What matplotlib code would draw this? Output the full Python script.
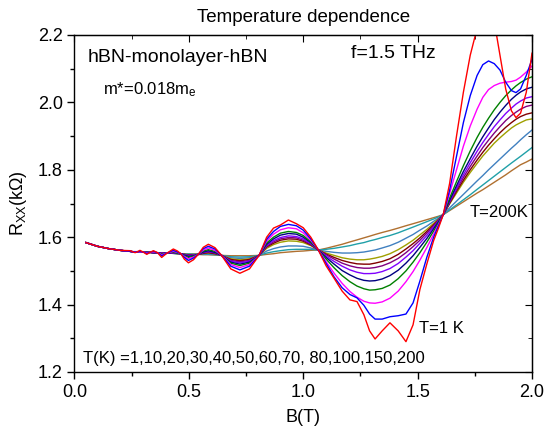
import numpy as np
import matplotlib
matplotlib.use('Agg')
import matplotlib.pyplot as plt

plt.rcParams['font.family'] = ['Liberation Sans', 'DejaVu Sans']
plt.rcParams['mathtext.fontset'] = 'custom'
plt.rcParams['mathtext.rm'] = 'Liberation Sans'
plt.rcParams['mathtext.it'] = 'Liberation Sans:italic'

# magnetic field grid (T)
b = [0.05, 0.10, 0.15, 0.20,
     0.243, 0.254, 0.265, 0.275, 0.286, 0.30,
     0.316, 0.33, 0.345, 0.363, 0.381, 0.405,
     0.432, 0.45, 0.465, 0.48, 0.498, 0.52,
     0.541, 0.563, 0.585, 0.614, 0.643, 0.683,
     0.723, 0.765, 0.807, 0.84, 0.87, 0.90,
     0.935, 0.97, 1.0, 1.033, 1.066,
     1.10, 1.135, 1.17, 1.204, 1.235, 1.265,
     1.29, 1.314, 1.345, 1.379, 1.415, 1.449,
     1.48, 1.51, 1.54, 1.57, 1.59, 1.612,
     1.64, 1.67, 1.70, 1.73, 1.76, 1.785,
     1.81, 1.835, 1.86, 1.885, 1.91, 1.93,
     1.95, 1.975, 2.0]

low = [1.584, 1.573, 1.566, 1.561]

r_1K = low + [1.560, 1.557, 1.554, 1.557, 1.561, 1.556,
              1.549, 1.555, 1.560, 1.554, 1.540, 1.553,
              1.565, 1.559, 1.551, 1.535, 1.524, 1.533,
              1.549, 1.570, 1.579, 1.569, 1.546, 1.506,
              1.493, 1.506, 1.546, 1.600, 1.627, 1.636,
              1.651, 1.640, 1.628, 1.600, 1.562,
              1.515, 1.478, 1.440, 1.414, 1.409, 1.370,
              1.322, 1.298, 1.322, 1.346, 1.322, 1.290,
              1.340, 1.445, 1.520, 1.590, 1.625, 1.667,
              1.760, 1.900, 2.030, 2.140, 2.220, 2.270,
              2.290, 2.240, 2.140, 2.040, 1.975, 1.955,
              1.968, 2.030, 2.146]
r_10K = low + [1.558, 1.557, 1.556, 1.557, 1.558, 1.556,
               1.552, 1.555, 1.558, 1.554, 1.545, 1.553,
               1.561, 1.556, 1.551, 1.540, 1.531, 1.538,
               1.549, 1.566, 1.573, 1.565, 1.546, 1.514,
               1.503, 1.514, 1.546, 1.594, 1.617, 1.632,
               1.638, 1.634, 1.621, 1.595, 1.562,
               1.522, 1.482, 1.450, 1.430, 1.420, 1.398,
               1.372, 1.357, 1.357, 1.364, 1.367, 1.372,
               1.405, 1.470, 1.540, 1.600, 1.632, 1.667,
               1.740, 1.840, 1.940, 2.020, 2.080, 2.112,
               2.123, 2.115, 2.096, 2.060, 2.035, 2.029,
               2.040, 2.080, 2.128]
r_20K = low + [1.558, 1.557, 1.557, 1.557, 1.556, 1.556,
               1.554, 1.555, 1.556, 1.554, 1.548, 1.553,
               1.558, 1.555, 1.551, 1.543, 1.536, 1.541,
               1.549, 1.562, 1.568, 1.561, 1.546, 1.519,
               1.510, 1.519, 1.546, 1.589, 1.609, 1.622,
               1.628, 1.625, 1.613, 1.591, 1.562,
               1.527, 1.493, 1.463, 1.439, 1.422, 1.410,
               1.405, 1.404, 1.408, 1.419, 1.440, 1.468,
               1.498, 1.532, 1.569, 1.609, 1.636, 1.667,
               1.730, 1.800, 1.870, 1.930, 1.980, 2.015,
               2.038, 2.050, 2.057, 2.060, 2.062, 2.066,
               2.075, 2.090, 2.108]
r_30K = low + [1.558, 1.557, 1.557, 1.557, 1.556, 1.556,
               1.555, 1.555, 1.555, 1.554, 1.550, 1.553,
               1.556, 1.553, 1.551, 1.545, 1.540, 1.544,
               1.549, 1.559, 1.563, 1.558, 1.546, 1.523,
               1.516, 1.523, 1.546, 1.583, 1.600, 1.612,
               1.617, 1.614, 1.605, 1.586, 1.562,
               1.535, 1.509, 1.486, 1.468, 1.455, 1.447,
               1.443, 1.444, 1.448, 1.458, 1.477, 1.500,
               1.526, 1.554, 1.585, 1.618, 1.641, 1.667,
               1.716, 1.765, 1.812, 1.856, 1.896, 1.926,
               1.953, 1.978, 2.000, 2.020, 2.037, 2.049,
               2.059, 2.069, 2.076]
r_40K = low + [1.558, 1.557, 1.557, 1.557, 1.556, 1.556,
               1.555, 1.555, 1.554, 1.554, 1.551, 1.553,
               1.555, 1.553, 1.551, 1.547, 1.543, 1.545,
               1.549, 1.556, 1.560, 1.555, 1.546, 1.526,
               1.520, 1.526, 1.546, 1.579, 1.595, 1.606,
               1.611, 1.609, 1.600, 1.584, 1.562,
               1.540, 1.520, 1.501, 1.488, 1.478, 1.472,
               1.470, 1.471, 1.476, 1.486, 1.502, 1.523,
               1.545, 1.570, 1.596, 1.625, 1.645, 1.667,
               1.710, 1.753, 1.795, 1.833, 1.870, 1.898,
               1.924, 1.949, 1.971, 1.991, 2.009, 2.021,
               2.031, 2.040, 2.045]
r_50K = low + [1.558, 1.557, 1.557, 1.557, 1.556, 1.556,
               1.555, 1.555, 1.554, 1.554, 1.552, 1.553,
               1.554, 1.552, 1.551, 1.548, 1.545, 1.547,
               1.549, 1.555, 1.558, 1.554, 1.546, 1.529,
               1.524, 1.529, 1.546, 1.576, 1.590, 1.599,
               1.604, 1.602, 1.595, 1.581, 1.562,
               1.544, 1.528, 1.514, 1.503, 1.496, 1.492,
               1.492, 1.493, 1.498, 1.507, 1.522, 1.541,
               1.560, 1.582, 1.605, 1.630, 1.647, 1.667,
               1.707, 1.746, 1.785, 1.821, 1.855, 1.881,
               1.905, 1.928, 1.948, 1.967, 1.983, 1.995,
               2.004, 2.013, 2.017]
r_60K = low + [1.558, 1.557, 1.557, 1.557, 1.556, 1.556,
               1.555, 1.555, 1.554, 1.554, 1.553, 1.553,
               1.553, 1.552, 1.551, 1.549, 1.546, 1.547,
               1.549, 1.554, 1.556, 1.553, 1.546, 1.531,
               1.527, 1.531, 1.546, 1.573, 1.586, 1.595,
               1.599, 1.598, 1.591, 1.579, 1.562,
               1.548, 1.535, 1.523, 1.515, 1.510, 1.508,
               1.508, 1.510, 1.515, 1.524, 1.537, 1.554,
               1.572, 1.591, 1.612, 1.634, 1.650, 1.667,
               1.704, 1.741, 1.777, 1.810, 1.841, 1.866,
               1.888, 1.909, 1.928, 1.946, 1.961, 1.971,
               1.980, 1.988, 1.992]
r_70K = low + [1.558, 1.557, 1.557, 1.557, 1.556, 1.556,
               1.555, 1.555, 1.554, 1.554, 1.553, 1.553,
               1.553, 1.552, 1.551, 1.549, 1.547, 1.548,
               1.549, 1.552, 1.554, 1.551, 1.546, 1.534,
               1.530, 1.534, 1.546, 1.571, 1.582, 1.591,
               1.595, 1.594, 1.588, 1.577, 1.562,
               1.550, 1.540, 1.531, 1.525, 1.521, 1.520,
               1.520, 1.523, 1.528, 1.536, 1.549, 1.565,
               1.581, 1.598, 1.617, 1.637, 1.651, 1.667,
               1.701, 1.736, 1.769, 1.800, 1.829, 1.852,
               1.873, 1.892, 1.910, 1.926, 1.940, 1.950,
               1.958, 1.965, 1.969]
r_80K = low + [1.558, 1.557, 1.557, 1.557, 1.556, 1.556,
               1.555, 1.555, 1.554, 1.554, 1.553, 1.553,
               1.553, 1.551, 1.551, 1.550, 1.548, 1.549,
               1.549, 1.552, 1.553, 1.551, 1.546, 1.536,
               1.533, 1.536, 1.546, 1.567, 1.578, 1.585,
               1.589, 1.588, 1.584, 1.575, 1.562,
               1.553, 1.546, 1.539, 1.535, 1.533, 1.533,
               1.535, 1.538, 1.543, 1.551, 1.563, 1.577,
               1.591, 1.607, 1.623, 1.641, 1.653, 1.667,
               1.699, 1.731, 1.763, 1.792, 1.819, 1.841,
               1.860, 1.879, 1.895, 1.910, 1.924, 1.933,
               1.940, 1.948, 1.951]
r_100K = low + [1.558, 1.557, 1.557, 1.557, 1.556, 1.556,
                1.555, 1.555, 1.554, 1.554, 1.553, 1.553,
                1.552, 1.551, 1.551, 1.550, 1.549, 1.549,
                1.549, 1.550, 1.551, 1.549, 1.546, 1.539,
                1.537, 1.539, 1.546, 1.559, 1.566, 1.571,
                1.574, 1.574, 1.573, 1.568, 1.562,
                1.558, 1.555, 1.553, 1.553, 1.554, 1.556,
                1.559, 1.562, 1.568, 1.575, 1.585, 1.597,
                1.608, 1.621, 1.633, 1.647, 1.656, 1.667,
                1.687, 1.707, 1.727, 1.747, 1.767, 1.783,
                1.800, 1.816, 1.832, 1.848, 1.864, 1.876,
                1.889, 1.904, 1.918]
r_150K = low + [1.558, 1.557, 1.557, 1.557, 1.556, 1.556,
                1.555, 1.555, 1.554, 1.554, 1.553, 1.553,
                1.552, 1.551, 1.551, 1.551, 1.550, 1.550,
                1.549, 1.549, 1.549, 1.548, 1.546, 1.542,
                1.541, 1.542, 1.546, 1.553, 1.557, 1.560,
                1.563, 1.564, 1.564, 1.564, 1.562,
                1.564, 1.567, 1.571, 1.575, 1.580, 1.584,
                1.589, 1.593, 1.599, 1.605, 1.613, 1.622,
                1.630, 1.638, 1.646, 1.654, 1.660, 1.667,
                1.681, 1.696, 1.711, 1.726, 1.742, 1.755,
                1.768, 1.781, 1.794, 1.807, 1.820, 1.830,
                1.840, 1.853, 1.866]
r_200K = low + [1.558, 1.557, 1.557, 1.557, 1.556, 1.556,
                1.555, 1.555, 1.554, 1.554, 1.553, 1.553,
                1.552, 1.551, 1.551, 1.551, 1.550, 1.550,
                1.549, 1.548, 1.548, 1.547, 1.546, 1.545,
                1.545, 1.545, 1.546, 1.549, 1.551, 1.554,
                1.556, 1.558, 1.559, 1.561, 1.562,
                1.567, 1.573, 1.579, 1.586, 1.592, 1.598,
                1.603, 1.608, 1.614, 1.620, 1.627, 1.634,
                1.640, 1.646, 1.652, 1.658, 1.662, 1.667,
                1.679, 1.692, 1.705, 1.718, 1.731, 1.741,
                1.752, 1.763, 1.774, 1.785, 1.797, 1.806,
                1.815, 1.823, 1.832]

curves = [r_1K, r_10K, r_20K, r_30K, r_40K, r_50K, r_60K, r_70K, r_80K, r_100K, r_150K, r_200K]
colors = ['#FF0000', '#0000FF', '#FF00FF', '#008000', '#000080', '#8000FF',
          '#800080', '#800000', '#A0A000', '#4080C0', '#20A0A8', '#B07030']

fig = plt.figure(figsize=(5.47, 4.28), dpi=100)
ax = fig.add_axes([74.5/547, 56/428, 457.5/547, 337/428])

# draw high T first so the T=1K curve is on top
for r, c in list(zip(curves, colors))[::-1]:
    ax.plot(b, r, color=c, lw=1.0)

ax.set_xlim(0, 2.0)
ax.set_ylim(1.2, 2.2)
ax.set_xticks([0, 0.5, 1.0, 1.5, 2.0])
ax.set_xticks([0.25, 0.75, 1.25, 1.75], minor=True)
ax.set_yticks([1.2, 1.4, 1.6, 1.8, 2.0, 2.2])
ax.set_yticks([1.3, 1.5, 1.7, 1.9, 2.1], minor=True)
ax.xaxis.set_major_formatter(matplotlib.ticker.FormatStrFormatter('%.1f'))
ax.yaxis.set_major_formatter(matplotlib.ticker.FormatStrFormatter('%.1f'))

ax.tick_params(axis='both', which='both', labelsize=13, width=1.0)
ax.tick_params(which='major', length=5)
ax.tick_params(which='minor', length=3)
ax.tick_params(axis='x', direction='out', top=False)
ax.tick_params(axis='y', direction='out', right=False)
sec_x = ax.secondary_xaxis('top')
sec_x.set_xticks([0, 0.5, 1.0, 1.5, 2.0])
sec_x.set_xticks([0.25, 0.75, 1.25, 1.75], minor=True)
sec_x.tick_params(which='both', direction='in', labeltop=False)
sec_x.tick_params(which='major', length=5)
sec_x.tick_params(which='minor', length=3)
sec_y = ax.secondary_yaxis('right')
sec_y.set_yticks([1.2, 1.4, 1.6, 1.8, 2.0, 2.2])
sec_y.set_yticks([1.3, 1.5, 1.7, 1.9, 2.1], minor=True)
sec_y.tick_params(which='both', direction='in', labelright=False)
sec_y.tick_params(which='major', length=5)
sec_y.tick_params(which='minor', length=3)
for sp in ax.spines.values():
    sp.set_linewidth(1.0)

ax.set_xlabel('B(T)', fontsize=13, labelpad=6)
ax.set_ylabel('R$_\\mathrm{XX}$(kΩ)', fontsize=13, labelpad=6)
fig.text(304/547, 1 - 18/428, 'Temperature dependence', fontsize=13.5,
         ha='center', va='center')

ax.text(0.059, 2.12, 'hBN-monolayer-hBN', fontsize=14, va='baseline')
ax.text(1.209, 2.131, 'f=1.5 THz', fontsize=14, va='baseline')
ax.text(0.125, 2.025, 'm*=0.018m$_\\mathrm{e}$', fontsize=12, va='baseline')
ax.text(1.729, 1.661, 'T=200K', fontsize=12, va='baseline')
ax.text(1.506, 1.317, 'T=1 K', fontsize=12, va='baseline')
ax.text(0.039, 1.226, 'T(K) =1,10,20,30,40,50,60,70, 80,100,150,200',
        fontsize=12, va='baseline')

fig.savefig('out.png', dpi=100)
